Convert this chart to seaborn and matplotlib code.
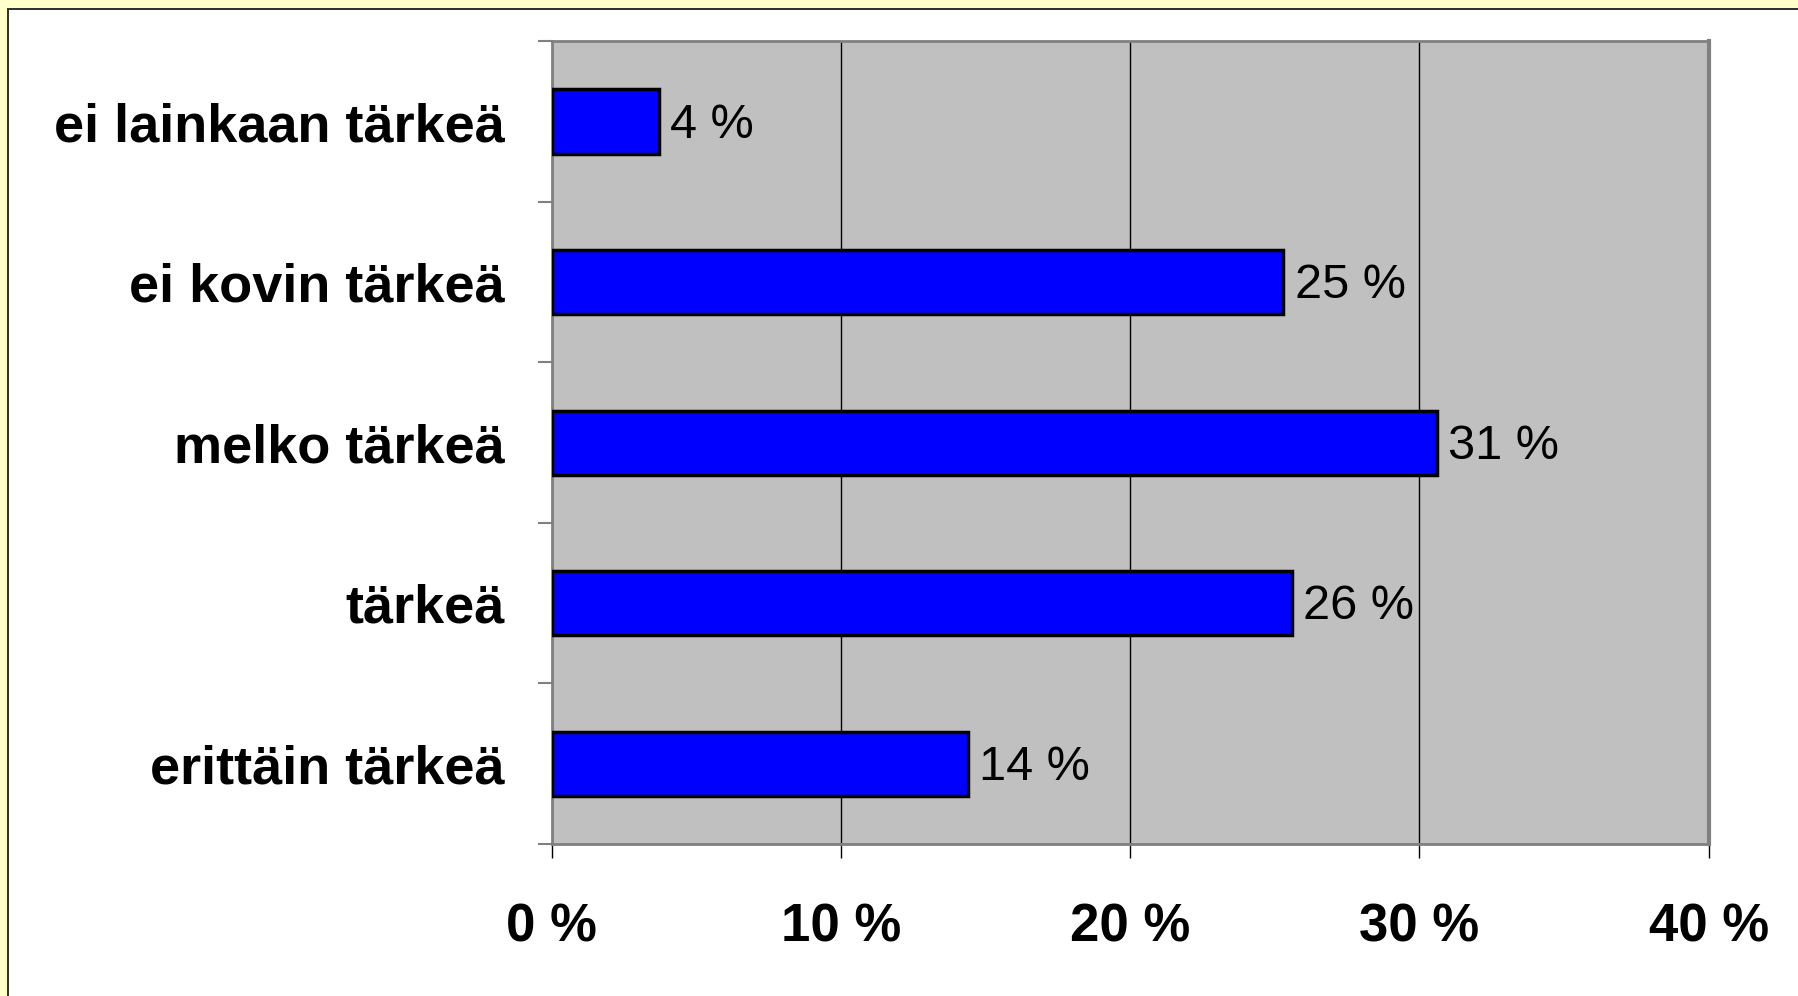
import numpy as np
import pandas as pd
import seaborn as sns
import matplotlib.pyplot as plt
from matplotlib.patches import Rectangle

categories = ["ei lainkaan tärkeä", "ei kovin tärkeä", "melko tärkeä",
              "tärkeä", "erittäin tärkeä"]
shares = [3.7, 25.3, 30.6, 25.6, 14.4]
x_ticks = [0, 10, 20, 30, 40]

df = pd.DataFrame({"answer": categories, "share": shares})

sns.set_style("white")
plt.rcParams["font.family"] = ["Liberation Sans", "DejaVu Sans"]
plt.rcParams["text.color"] = "black"
plt.rcParams["xtick.labelcolor"] = "black"
plt.rcParams["ytick.labelcolor"] = "black"

W, H = 1798, 996
fig = plt.figure(figsize=(W / 100, H / 100), dpi=100)
fig.patch.set_facecolor("white")

# yellow frame on left and top, with a dark inner line
fig.add_artist(Rectangle((0, 0), 7 / W, 1, transform=fig.transFigure,
                         color="#FFFFCC", lw=0))
fig.add_artist(Rectangle((0, 1 - 8 / H), 1, 8 / H, transform=fig.transFigure,
                         color="#FFFFCC", lw=0))
fig.add_artist(Rectangle((7 / W, 0), 2.2 / W, 1 - 8 / H, transform=fig.transFigure,
                         color="#333333", lw=0))
fig.add_artist(Rectangle((7 / W, 1 - 10.2 / H), 1, 2.2 / H, transform=fig.transFigure,
                         color="#333333", lw=0))

ax = fig.add_axes([551.6 / W, 1 - 844 / H, (1708.6 - 551.6) / W, (844 - 41.3) / H])
ax.set_facecolor("#C0C0C0")

sns.barplot(data=df, x="share", y="answer", orient="h", color="#0000FF",
            saturation=1, width=0.4, edgecolor="black", linewidth=2.5, ax=ax,
            zorder=3)

ax.set_xlim(0, 40)
ax.set_ylim(4.5, -0.5)
ax.set_xticks(x_ticks)
ax.set_xticklabels([f"{t} %" for t in x_ticks], fontsize=38, fontweight="bold")
ax.set_yticklabels(categories, fontsize=39, fontweight="bold")
ax.set_xlabel("")
ax.set_ylabel("")

ax.xaxis.grid(True, color="black", lw=1)
ax.yaxis.grid(False)
ax.set_axisbelow(True)

ax.set_yticks(np.arange(-0.5, 5, 1), minor=True)
ax.tick_params(axis="y", which="major", length=0, pad=34)
ax.tick_params(axis="y", which="minor", left=True, length=10, width=1.5, color="#808080")
ax.tick_params(axis="x", which="major", bottom=True, length=10, width=1, color="black", pad=32)

for side in ["top", "right", "left", "bottom"]:
    ax.spines[side].set_visible(True)
    ax.spines[side].set_color("#808080")
    ax.spines[side].set_linewidth(2)
ax.spines["right"].set_linewidth(3)

texts = ax.bar_label(ax.containers[0], labels=[f"{v:.0f} %" for v in shares],
                     padding=8, fontsize=35, color="black")
# nudge value labels slightly down (offset points)
for t in texts:
    ox, oy = t.xyann
    t.xyann = (ox, oy - 2.5)

fig.savefig("out.png", dpi=100)
